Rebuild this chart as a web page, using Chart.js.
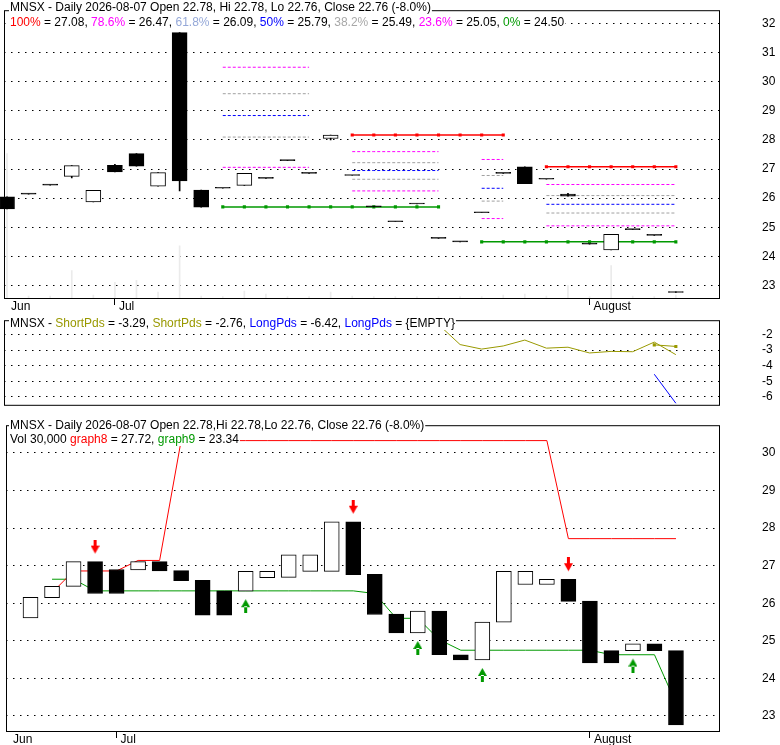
<!DOCTYPE html>
<html>
<head>
<meta charset="utf-8">
<script src="https://cdn.jsdelivr.net/npm/chart.js@4.4.1/dist/chart.umd.min.js"></script>
<style>
  body { margin: 0; background: #fff; width: 780px; height: 745px; position: relative; overflow: hidden; }
  canvas { position: absolute; left: 0; }
</style>
</head>
<body>
<canvas id="priceChart" width="780" height="318" style="top:0"></canvas>
<canvas id="pdsChart" width="780" height="105" style="top:310px"></canvas>
<canvas id="haChart" width="780" height="330" style="top:415px"></canvas>
<script>
// trading days 2026-06-24 .. 2026-08-07, index 0..31
const monthIdx = [0, 5, 27];
const monthLabels = ['Jun', 'Jul', 'August'];

// top panel: daily candles
const topOpen  = [26.05, 26.14, 26.45, 26.75, 25.87, 27.13, 27.53, 26.41, 31.69, 26.28, 26.34, 26.44, 26.68, 27.29, 26.85, 28.05,
                  26.78, 25.70, 25.19, 25.80, 24.62, 24.50, 25.50, 26.85, 27.08, 26.65, 26.14, 24.42, 24.22, 24.92, 24.72, 22.78];
const topHigh  = [26.05, 26.14, 26.45, 27.12, 26.27, 27.16, 27.53, 26.88, 31.69, 26.28, 26.34, 26.85, 26.68, 27.29, 26.85, 28.17,
                  26.78, 25.70, 25.19, 25.80, 24.62, 24.50, 25.50, 26.85, 27.08, 26.65, 26.17, 24.42, 24.76, 24.92, 24.72, 22.78];
const topLow   = [25.63, 26.14, 26.45, 26.70, 25.87, 26.90, 27.10, 26.41, 26.25, 25.69, 26.34, 26.44, 26.68, 27.29, 26.85, 28.00,
                  26.78, 25.70, 25.19, 25.80, 24.62, 24.50, 25.50, 26.85, 26.50, 26.65, 26.07, 24.42, 24.22, 24.92, 24.72, 22.76];
const topClose = [25.63, 26.14, 26.45, 27.12, 26.27, 26.90, 27.10, 26.88, 26.59, 25.69, 26.34, 26.85, 26.68, 27.29, 26.85, 28.17,
                  26.78, 25.70, 25.19, 25.80, 24.62, 24.50, 25.50, 26.85, 26.50, 26.65, 26.07, 24.42, 24.76, 24.92, 24.72, 22.76];
// volume, thousands of shares
const volume = [1470, 20, 20, 280, 30, 160, 180, 60, 530, 20, 15, 70, 40, 15, 15, 60,
                20, 15, 15, 15, 15, 15, 15, 30, 40, 20, 130, 15, 330, 20, 15, 30];

// fibonacci retracement sections (dashed levels run fibFrom..fibTo)
const fibFrom = [10, 16, 22, 25];
const fibTo   = [14, 20, 23, 31];
const fib786  = [30.50, 27.60, 27.33, 26.47];
const fib618  = [29.59, 27.22, 26.78, 26.09];
const fib500  = [28.84, 26.95, 26.34, 25.79];
const fib382  = [28.10, 26.65, 25.90, 25.49];
const fib236  = [27.06, 26.25, 25.30, 25.05];
const fib100Level = [31.95, 28.17, 27.08];
const fib100From  = [10, 16, 25];
const fib100To    = [20, 23, 31];
const fib0Level = [25.70, 24.50];
const fib0From  = [10, 22];
const fib0To    = [20, 31];
const priceTicks = [23, 24, 25, 26, 27, 28, 29, 30, 31, 32];

// middle panel
const shortPdsStart = 20;
const shortPds = [-1.35, -2.64, -2.93, -2.73, -2.35, -2.87, -2.81, -3.18, -3.08, -3.10, -2.48, -3.29];
const shortPds2Start = 30;
const shortPds2 = [-2.66, -2.76];
const longPdsStart = 30;
const longPds = [-4.55, -6.42];
const pdsTicks = [-6, -5, -4, -3, -2];

// bottom panel: smoothed candles, graph8 / graph9 and signals
const haOpen  = [null, 25.61, 26.15, 26.45, 27.11, 26.90, 26.89, 27.11, 26.87, 26.61, 26.33, 26.32, 26.68, 26.69, 26.85, 26.85,
                 28.17, 26.77, 25.71, 25.21, 25.79, 24.63, 24.49, 25.50, 26.50, 26.50, 26.64, 26.06, 24.74, 24.74, 24.92, 24.74];
const haClose = [null, 26.16, 26.45, 27.11, 26.26, 26.26, 27.11, 26.86, 26.60, 25.68, 25.68, 26.85, 26.85, 27.29, 27.29, 28.17,
                 26.76, 25.70, 25.21, 25.79, 24.63, 24.49, 25.50, 26.85, 26.85, 26.64, 26.05, 24.41, 24.41, 24.92, 24.74, 22.76];
const graph8 = [null, null, 26.28, 26.86, 26.86, 26.86, 27.14, 27.14, 30.33, 30.33, 30.33, 30.33, 30.33, 30.33, 30.33, 30.33,
                30.33, 30.33, 30.33, 30.33, 30.33, 30.33, 30.33, 30.33, 30.33, 30.33, 27.72, 27.72, 27.72, 27.72, 27.72, 27.72];
const graph9 = [null, null, 26.64, 26.64, 26.33, 26.33, 26.33, 26.33, 26.33, 26.33, 26.33, 26.33, 26.33, 26.33, 26.33, 26.33,
                26.33, 26.26, 25.60, 25.60, 25.03, 24.75, 24.75, 24.75, 24.75, 24.75, 24.75, 24.75, 24.63, 24.63, 24.63, 23.34];
const sellIdx = [4, 16, 26];
const buyIdx = [11, 19, 22, 29];
const haTicks = [23, 24, 25, 26, 27, 28, 29, 30];

const X_MIN = -0.14, X_MAX = 33.0;
const FONT = '"Liberation Sans", Arial, sans-serif';
const MAGENTA = '#ff00ff', GREY = '#a0a0a0', BLUE = '#0000ff', RED = '#ff0000', GREEN = '#009900', OLIVE = '#999900';
const GRID_DASH = [1.5, 5.5];

Chart.defaults.font.family = FONT;
Chart.defaults.font.size = 12;
Chart.defaults.color = '#000';
Chart.defaults.animation = false;
Chart.defaults.events = [];
Chart.defaults.plugins.legend.display = false;
Chart.defaults.plugins.tooltip.enabled = false;

const series = (arr, start = 0) => arr.map((v, i) => ({ x: start + i, y: v }));
const span = (from, to, v) => { const out = []; for (let i = from; i <= to; i++) out.push({ x: i, y: v }); return out; };

function xScale(show, axisHeight) {
  return {
    type: 'linear', min: X_MIN, max: X_MAX, offset: false, display: show,
    afterBuildTicks: s => { s.ticks = monthIdx.map(v => ({ value: v })); },
    afterFit: s => { s.height = axisHeight; },
    ticks: { autoSkip: false, maxRotation: 0, align: 'start', labelOffset: 4, padding: -6,
             callback: (v, i) => monthLabels[i] },
    grid: { offset: false, drawOnChartArea: false, drawTicks: true, tickLength: 7,
            tickColor: c => c.index === 0 ? 'rgba(0,0,0,0)' : '#000' },
    border: { display: false }
  };
}
function yScale(min, max, tickVals) {
  return {
    type: 'linear', position: 'right', min, max,
    afterBuildTicks: s => { s.ticks = tickVals.map(v => ({ value: v })); },
    afterFit: s => { s.width = 61; },
    ticks: { padding: 3, callback: v => String(v) },
    grid: { color: '#000', lineWidth: 1, drawTicks: true, tickLength: 40, tickColor: 'rgba(0,0,0,0)' },
    border: { display: false, dash: GRID_DASH }
  };
}

// frame round the plot area, and the coloured header texts on white
function panelText(lines) {
  return {
    id: 'panelText',
    beforeDatasetsDraw(chart) {
      const { ctx, chartArea: a } = chart;
      ctx.save();
      ctx.strokeStyle = '#000'; ctx.lineWidth = 1;
      ctx.strokeRect(a.left + 0.5, a.top + 0.5, a.right - a.left, a.bottom - a.top);
      ctx.restore();
    },
    afterDraw(chart) {
      const ctx = chart.ctx;
      ctx.save();
      ctx.font = '12px ' + FONT;
      ctx.textBaseline = 'alphabetic';
      lines.forEach(line => {
        let x = line.x;
        const w = line.runs.reduce((s, r) => s + ctx.measureText(r[0]).width, 0);
        ctx.fillStyle = '#fff';
        ctx.fillRect(x - 1, line.y - 11, w + 2, 14);
        line.runs.forEach(([t, c]) => { ctx.fillStyle = c; ctx.fillText(t, x, line.y); x += ctx.measureText(t).width; });
      });
      ctx.restore();
    }
  };
}

function candleBodies(open, close) {
  const data = [];
  open.forEach((o, i) => { if (o != null) data.push({ x: i, y: [o, close[i]] }); });
  return {
    type: 'bar', data, grouped: false, barThickness: 15, minBarLength: 1, clip: false,
    backgroundColor: c => (c.raw.y[1] > c.raw.y[0] ? '#fff' : '#000'),
    borderColor: '#000', borderWidth: 1, borderSkipped: false, order: 1
  };
}

function arrowImage(color, down) {
  const c = document.createElement('canvas');
  c.width = 9; c.height = 44;
  const g = c.getContext('2d');
  g.fillStyle = color;
  g.beginPath();
  if (down) {
    g.rect(3, 0, 3, 7);
    g.moveTo(0, 6); g.lineTo(9, 6); g.lineTo(4.5, 14); g.closePath();
  } else {
    g.rect(3, 37, 3, 7);
    g.moveTo(0, 38); g.lineTo(9, 38); g.lineTo(4.5, 30); g.closePath();
  }
  g.fill();
  return c;
}

// ---------- top panel ----------
const fibDatasets = [];
const dashed = (pts, color) => ({ type: 'line', data: pts, borderColor: color, borderWidth: 1, borderDash: [3, 2],
                                   pointRadius: 0, order: 5 });
const marked = (pts, color) => ({ type: 'line', data: pts, borderColor: color, backgroundColor: color, borderWidth: 1.5,
                                   pointStyle: 'rect', pointRadius: 2.2, pointBorderWidth: 0, order: 4 });
fibFrom.forEach((f, s) => {
  [[fib786, MAGENTA], [fib618, GREY], [fib500, BLUE], [fib382, GREY], [fib236, MAGENTA]].forEach(([lv, col]) => {
    fibDatasets.push(dashed(span(f, fibTo[s], lv[s]), col));
  });
});
fib100Level.forEach((v, s) => fibDatasets.push(marked(span(fib100From[s], fib100To[s], v), RED)));
fib0Level.forEach((v, s) => fibDatasets.push(marked(span(fib0From[s], fib0To[s], v), GREEN)));

new Chart(document.getElementById('priceChart'), {
  type: 'bar',
  data: {
    datasets: [
      candleBodies(topOpen, topClose),
      { type: 'bar', data: topLow.map((l, i) => ({ x: i, y: [l, topHigh[i]] })), grouped: false, barThickness: 1,
        backgroundColor: '#000', borderWidth: 0, order: 2 },
      ...fibDatasets,
      { type: 'bar', yAxisID: 'vol', data: series(volume), grouped: false, barThickness: 1,
        backgroundColor: '#ebebeb', borderWidth: 0, order: 20 }
    ]
  },
  options: {
    responsive: false,
    layout: { padding: { left: 3, top: 5, right: 0, bottom: 0 } },
    scales: {
      x: xScale(true, 20),
      y: yScale(22.57, 32.46, priceTicks),
      vol: { axis: 'y', type: 'linear', display: false, min: 0, max: 2930, position: 'left' }
    }
  },
  plugins: [panelText([
    { x: 10, y: 11, runs: [['MNSX - Daily 2026-08-07 Open 22.78, Hi 22.78, Lo 22.76, Close 22.76 (-8.0%)', '#000']] },
    { x: 10, y: 26, runs: [
      ['100%', RED], [' = ' + fib100Level[2].toFixed(2) + ', ', '#000'],
      ['78.6%', MAGENTA], [' = ' + fib786[3].toFixed(2) + ', ', '#000'],
      ['61.8%', '#95a8d8'], [' = ' + fib618[3].toFixed(2) + ', ', '#000'],
      ['50%', BLUE], [' = ' + fib500[3].toFixed(2) + ', ', '#000'],
      ['38.2%', '#a8a8a8'], [' = ' + fib382[3].toFixed(2) + ', ', '#000'],
      ['23.6%', MAGENTA], [' = ' + fib236[3].toFixed(2) + ', ', '#000'],
      ['0%', GREEN], [' = ' + fib0Level[1].toFixed(2), '#000']
    ] }
  ])]
});

// ---------- middle panel ----------
new Chart(document.getElementById('pdsChart'), {
  type: 'line',
  data: {
    datasets: [
      { data: series(shortPds, shortPdsStart), borderColor: OLIVE, borderWidth: 1, pointRadius: 0 },
      { data: series(shortPds2, shortPds2Start), borderColor: OLIVE, backgroundColor: OLIVE, borderWidth: 1,
        pointStyle: 'rect', pointRadius: 2.2, pointBorderWidth: 0 },
      { data: series(longPds, longPdsStart), borderColor: BLUE, borderWidth: 1, pointRadius: 0 }
    ]
  },
  options: {
    responsive: false,
    layout: { padding: { left: 3, top: 9, right: 0, bottom: 2 } },
    scales: { x: xScale(false, 0), y: yScale(-6.52, -1.07, pdsTicks) }
  },
  plugins: [panelText([
    { x: 10, y: 17, runs: [
      ['MNSX - ', '#000'], ['ShortPds', OLIVE], [' = ' + shortPds[shortPds.length - 1].toFixed(2) + ', ', '#000'],
      ['ShortPds', OLIVE], [' = ' + shortPds2[shortPds2.length - 1].toFixed(2) + ', ', '#000'],
      ['LongPds', BLUE], [' = ' + longPds[longPds.length - 1].toFixed(2) + ', ', '#000'],
      ['LongPds', BLUE], [' = {EMPTY}', '#000']
    ] }
  ])]
});

// ---------- bottom panel ----------
new Chart(document.getElementById('haChart'), {
  type: 'bar',
  data: {
    datasets: [
      candleBodies(haOpen, haClose),
      { type: 'line', data: series(graph8), borderColor: RED, borderWidth: 1, pointRadius: 0, order: 5 },
      { type: 'line', data: series(graph9), borderColor: GREEN, borderWidth: 1, pointRadius: 0, order: 5 },
      { type: 'line', showLine: false, order: 0, pointRadius: 5, pointStyle: arrowImage(RED, true),
        data: sellIdx.map(i => ({ x: i, y: Math.max(haOpen[i], haClose[i]) })) },
      { type: 'line', showLine: false, order: 0, pointRadius: 5, pointStyle: arrowImage(GREEN, false),
        data: buyIdx.map(i => ({ x: i, y: Math.min(haOpen[i], haClose[i]) })) }
    ]
  },
  options: {
    responsive: false,
    layout: { padding: { left: 3, top: 8, right: 0, bottom: 0 } },
    scales: { x: xScale(true, 14), y: yScale(22.6, 30.74, haTicks) }
  },
  plugins: [panelText([
    { x: 10, y: 14, runs: [['MNSX - Daily 2026-08-07 Open 22.78,Hi 22.78,Lo 22.76, Close 22.76 (-8.0%)', '#000']] },
    { x: 10, y: 28, runs: [
      ['Vol ' + (volume[volume.length - 1] * 1000).toLocaleString('en-US') + ' ', '#000'],
      ['graph8', RED], [' = ' + graph8[31].toFixed(2) + ', ', '#000'],
      ['graph9', GREEN], [' = ' + graph9[31].toFixed(2), '#000']
    ] }
  ])]
});
</script>
</body>
</html>
